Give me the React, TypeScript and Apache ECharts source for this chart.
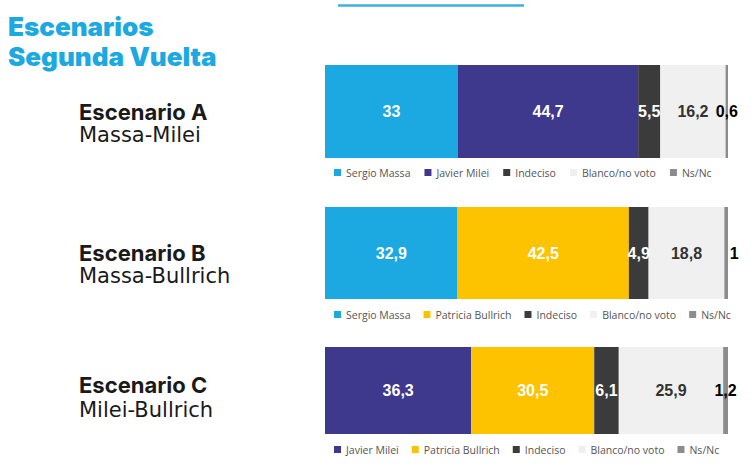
import React, { useEffect, useRef } from "react";
import * as echarts from "echarts";

const scenarioTitles = ["Escenario A", "Escenario B", "Escenario C"];
const scenarioSubtitles = ["Massa-Milei", "Massa-Bullrich", "Milei-Bullrich"];

const namesA = ["Sergio Massa", "Javier Milei", "Indeciso", "Blanco/no voto", "Ns/Nc"];
const valuesA = [33, 44.7, 5.5, 16.2, 0.6];
const namesB = ["Sergio Massa", "Patricia Bullrich", "Indeciso", "Blanco/no voto", "Ns/Nc"];
const valuesB = [32.9, 42.5, 4.9, 18.8, 1];
const namesC = ["Javier Milei", "Patricia Bullrich", "Indeciso", "Blanco/no voto", "Ns/Nc"];
const valuesC = [36.3, 30.5, 6.1, 25.9, 1.2];

const colorMap: Record<string, string> = {
  "Sergio Massa": "#1ca9e1",
  "Javier Milei": "#3f398d",
  "Patricia Bullrich": "#fec300",
  "Indeciso": "#3b3b3b",
  "Blanco/no voto": "#f0f0f0",
  "Ns/Nc": "#8c8c8c",
};
const labelColorMap: Record<string, string> = {
  "Sergio Massa": "#ffffff",
  "Javier Milei": "#ffffff",
  "Patricia Bullrich": "#ffffff",
  "Indeciso": "#ffffff",
  "Blanco/no voto": "#333333",
  "Ns/Nc": "#000000",
};

const scenarios = [
  { names: namesA, values: valuesA },
  { names: namesB, values: valuesB },
  { names: namesC, values: valuesC },
];

const gridTops = [65, 207, 347];
const gridHeights = [93, 92, 87];
const legendTops = [167, 309, 444];
const legendGaps = [14, 13, 13];
const titleYs = [112, 253, 385];
const subYs = [135, 276, 410];

export default function App() {
  const ref = useRef<HTMLDivElement>(null);
  useEffect(() => {
    if (!ref.current) return;
    const chart = echarts.init(ref.current, undefined, { renderer: "svg" });

    const grids = scenarios.map((_, i) => ({
      left: 325,
      width: 403,
      top: gridTops[i],
      height: gridHeights[i],
    }));
    const xAxes = scenarios.map((_, i) => ({
      type: "value",
      gridIndex: i,
      min: 0,
      max: 100,
      show: false,
    }));
    const yAxes = scenarios.map((_, i) => ({
      type: "category",
      gridIndex: i,
      data: [scenarioTitles[i]],
      show: false,
    }));
    const series: any[] = [];
    scenarios.forEach((sc, i) => {
      sc.names.forEach((name, j) => {
        series.push({
          type: "bar",
          name,
          xAxisIndex: i,
          yAxisIndex: i,
          stack: "s" + i,
          barCategoryGap: "0%",
          itemStyle: { color: colorMap[name] },
          label: {
            show: true,
            position: "inside",
            offset: i === 1 && name === "Ns/Nc" ? [8, 0] : [0, 0],
            color: labelColorMap[name],
            fontFamily: "Liberation Sans, Arial, sans-serif",
            fontWeight: "bold",
            fontSize: 16,
            formatter: (p: any) => String(p.value).replace(".", ","),
          },
          data: [sc.values[j]],
        });
      });
    });
    const legends = scenarios.map((sc, i) => ({
      data: sc.names,
      left: 334,
      top: legendTops[i],
      padding: 0,
      orient: "horizontal",
      icon: "rect",
      itemWidth: 7,
      itemHeight: 7,
      itemGap: legendGaps[i],
      selectedMode: false,
      textStyle: {
        color: "#555555",
        fontFamily: "Open Sans, sans-serif",
        fontSize: 10.5,
      },
    }));

    const graphic: any[] = [
      {
        type: "line",
        shape: { x1: 338, y1: 5.5, x2: 524, y2: 5.5 },
        style: { stroke: "#3fb1dc", lineWidth: 2.5 },
      },
      {
        type: "text",
        x: 8,
        y: 26,
        style: {
          text: "Escenarios",
          fill: "#1ca9e1",
          font: "900 26px Inter, sans-serif",
          verticalAlign: "middle",
          lineHeight: 26,
        },
      },
      {
        type: "text",
        x: 8,
        y: 56,
        style: {
          text: "Segunda Vuelta",
          fill: "#1ca9e1",
          font: "900 26px Inter, sans-serif",
          verticalAlign: "middle",
          lineHeight: 26,
        },
      },
    ];
    scenarioTitles.forEach((t, i) => {
      graphic.push({
        type: "text",
        x: 79,
        y: titleYs[i],
        style: {
          text: t,
          fill: "#1a1a1a",
          font: "bold 22px Inter, sans-serif",
          verticalAlign: "middle",
          lineHeight: 22,
        },
      });
      graphic.push({
        type: "text",
        x: 79,
        y: subYs[i],
        style: {
          text: scenarioSubtitles[i],
          fill: "#1a1a1a",
          font: "21px DejaVu Sans, sans-serif",
          verticalAlign: "middle",
          lineHeight: 22,
        },
      });
    });

    chart.setOption({
      animation: false,
      backgroundColor: "#ffffff",
      grid: grids,
      xAxis: xAxes,
      yAxis: yAxes,
      legend: legends,
      series,
      graphic,
    });
    return () => chart.dispose();
  }, []);
  return (
    <div
      ref={ref}
      style={{ position: "fixed", left: 0, top: 0, width: 755, height: 470 }}
    />
  );
}
